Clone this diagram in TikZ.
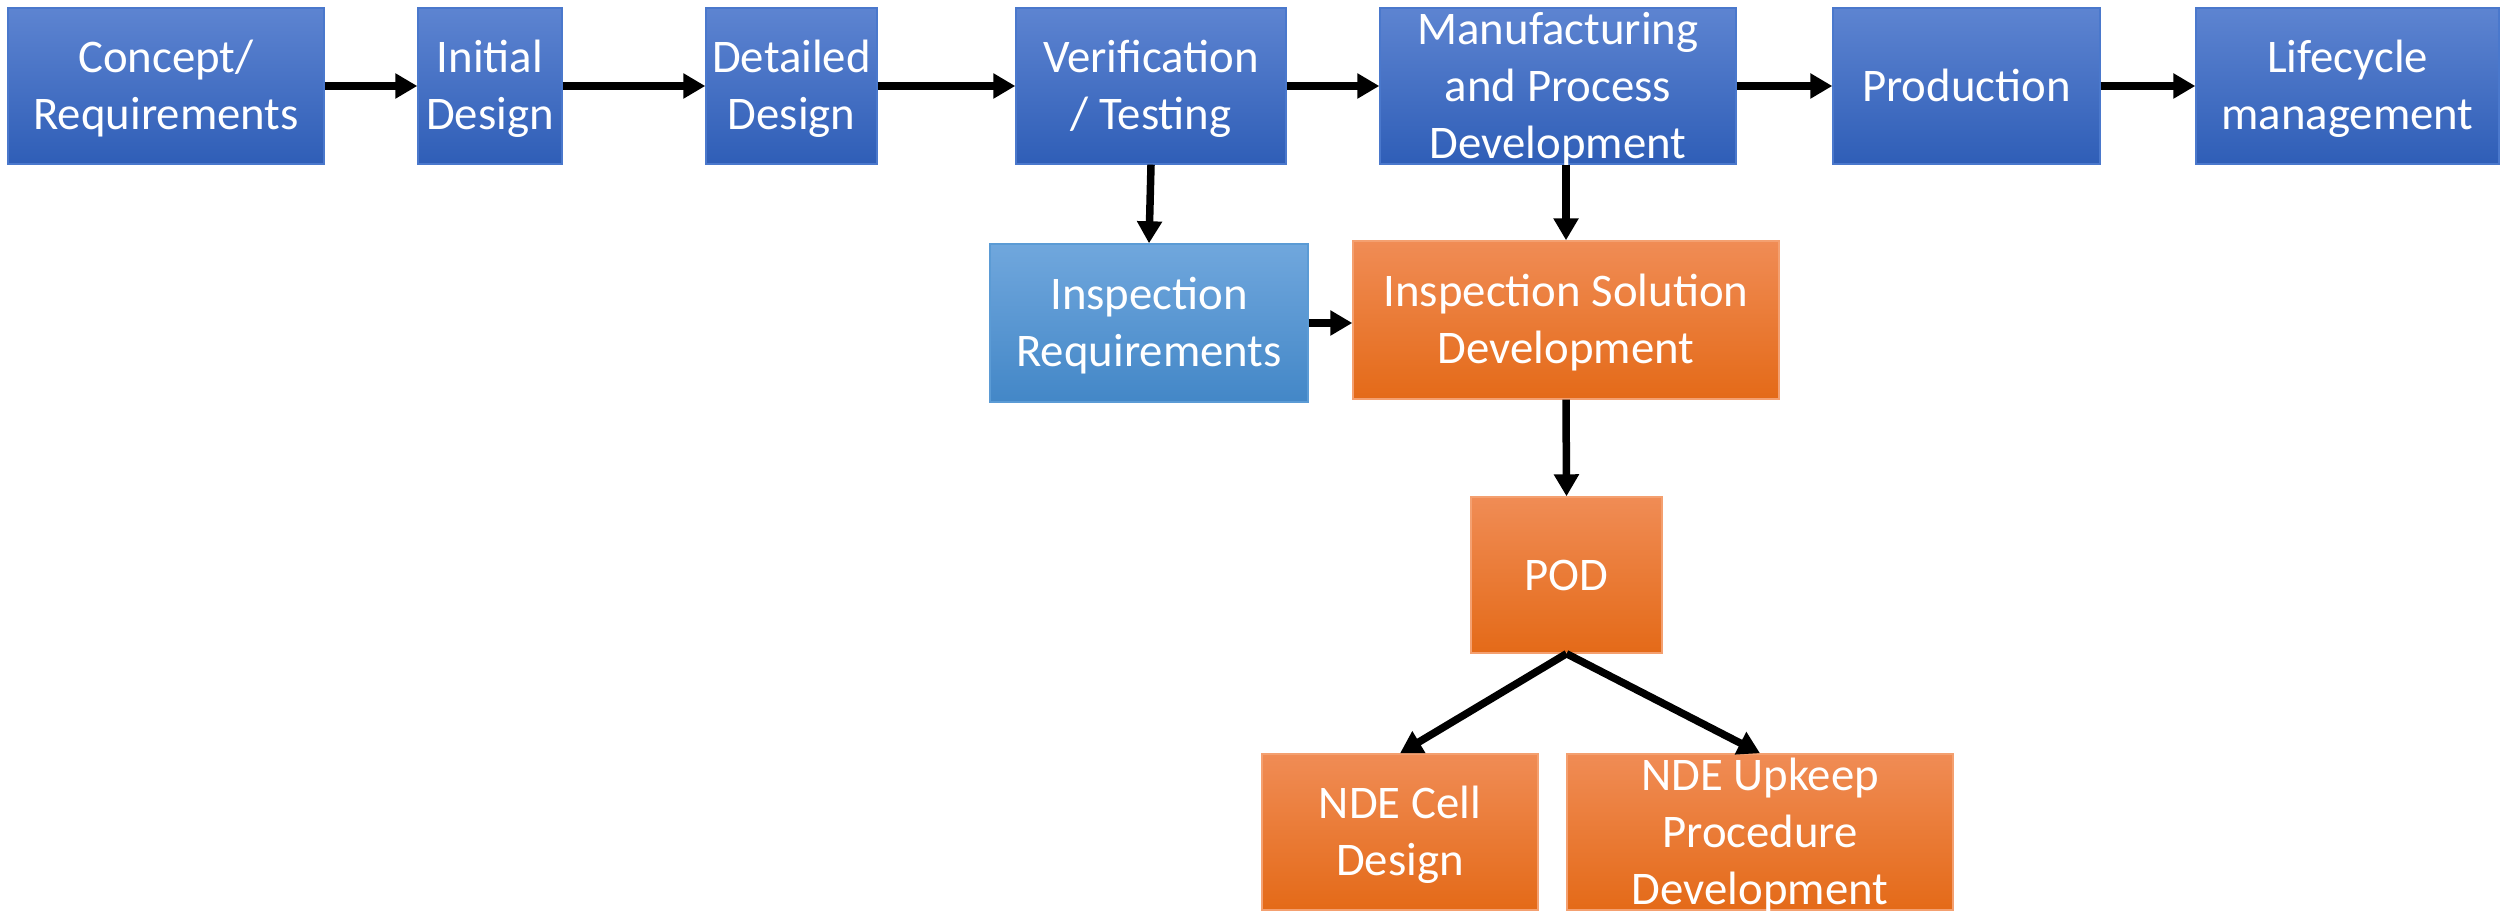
\documentclass[tikz,border=0pt]{standalone}
\usepackage{fontspec}
\setmainfont{Carlito}
\usetikzlibrary{arrows.meta}
\definecolor{stagetop}{HTML}{5D84D1}
\definecolor{stagebot}{HTML}{2F5EB7}
\definecolor{stageline}{HTML}{4A78CC}
\definecolor{reqtop}{HTML}{70A7DD}
\definecolor{reqbot}{HTML}{4387C7}
\definecolor{reqline}{HTML}{5B9BD5}
\definecolor{ndetop}{HTML}{F08C55}
\definecolor{ndemid}{HTML}{F27B2A}
\definecolor{ndebot}{HTML}{E46A18}
\definecolor{ndeline}{HTML}{F4A070}
\newcommand{\unitsize}{0.01cm}
% even line boxes, first line and last line
\newcommand{\linetop}{\rule{0pt}{12pt}}
\newcommand{\linebot}{\rule[-3.4pt]{0pt}{3.4pt}}
% three lines overflow the box a bit, keep the box size
\newcommand{\toprow}[1]{\rule{0pt}{10.3pt}\smash{#1}}
\newcommand{\botrow}[1]{\smash{#1}\rule[-1.7pt]{0pt}{1.7pt}}

\begin{document}
\begin{tikzpicture}[x=\unitsize,y=-\unitsize]
\useasboundingbox (0,0) rectangle (2504,913);
\tikzstyle{every node}=[rectangle,
			text=white,
			align=center,
			inner sep=0pt,
			minimum height=156*\unitsize,
			font=\fontsize{13.3}{16.2}\selectfont
			]
\tikzstyle{stage}=[draw=stageline, thin, top color=stagetop, bottom color=stagebot]
\tikzstyle{reqbox}=[draw=reqline, thin, top color=reqtop, bottom color=reqbot]
\tikzstyle{ndebox}=[draw=ndeline, thin, top color=ndetop, middle color=ndemid, bottom color=ndebot]
\tikzstyle{flow}=[line width=7.5*\unitsize, -{Triangle[length=22*\unitsize, width=24*\unitsize]}]


\node[stage, minimum width=316*\unitsize] (concept) at (166,86) {\linetop Concept/\\Requirements\linebot};
\node[stage, minimum width=144*\unitsize] (initial) at (490,86) {\linetop Initial\\Design\linebot};
\node[stage, minimum width=171*\unitsize] (detailed) at (791.5,86) {\linetop Detailed\\Design\linebot};
\node[stage, minimum width=270*\unitsize] (verify) at (1151,86) {\linetop Verification\\/ Testing\linebot};
\node[stage, minimum width=356*\unitsize] (manuf) at (1558,86) {\toprow{Manufacturing}\\and Process\\\botrow{Development}};
\node[stage, minimum width=267*\unitsize] (prod) at (1966.5,86) {\linetop Production\linebot};
\node[stage, minimum width=303*\unitsize] (life) at (2347.5,86) {\linetop Lifecycle\\management\linebot};


\node[reqbox, minimum width=318*\unitsize, minimum height=158*\unitsize] (inspreq) at (1149,323) {\linetop Inspection\\Requirements\linebot};
\node[ndebox, minimum width=426*\unitsize, minimum height=158*\unitsize] (inspsol) at (1566,320) {\linetop Inspection Solution\\Development\linebot};
\node[ndebox, minimum width=191*\unitsize] (pod) at (1566.5,575) {\linetop POD\linebot};
\node[ndebox, minimum width=276*\unitsize] (ndecell) at (1400,832) {\linetop NDE Cell\\Design\linebot};
\node[ndebox, minimum width=386*\unitsize] (upkeep) at (1760,832) {\toprow{NDE Upkeep}\\Procedure\\\botrow{Development}};


\draw[flow] (concept) -- (initial);
\draw[flow] (initial) -- (detailed);
\draw[flow] (detailed) -- (verify);
\draw[flow] (verify) -- (manuf);
\draw[flow] (manuf) -- (prod);
\draw[flow] (prod) -- (life);

\draw[flow] (verify.south) -- (inspreq.north);
\draw[flow] (manuf.south -| inspsol.north) -- (inspsol.north);
\draw[flow] (inspreq.east) -- (inspreq.east -| inspsol.west);
\draw[flow] (inspsol.south) -- (pod.north);
\draw[flow] (pod.south) -- (ndecell.north);
\draw[flow] (pod.south) -- (upkeep.north);

\end{tikzpicture}
\end{document}
